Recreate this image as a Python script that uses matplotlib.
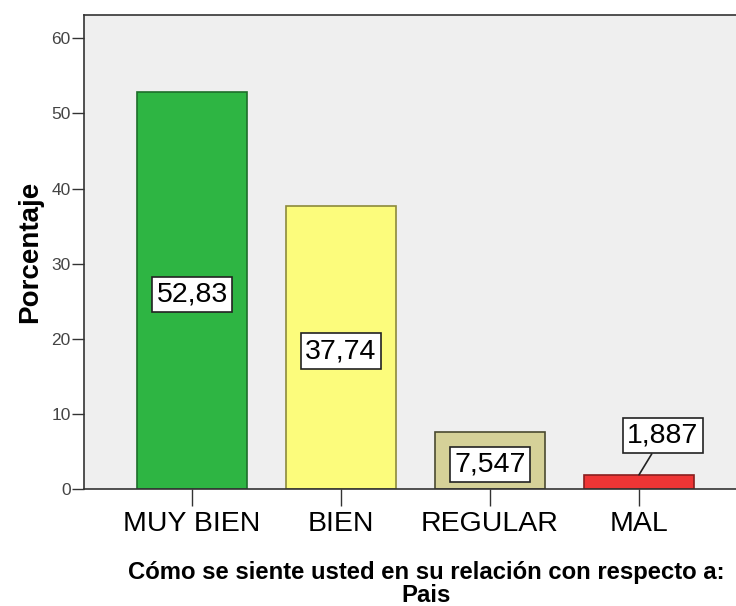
import matplotlib as mpl
mpl.use('Agg')
import matplotlib.pyplot as plt

plt.rcParams['font.family'] = ['Liberation Sans', 'DejaVu Sans']

categorias = ["MUY BIEN", "BIEN", "REGULAR", "MAL"]
porcentajes = [52.83, 37.74, 7.547, 1.887]
etiquetas = ["52,83", "37,74", "7,547", "1,887"]
colores = ["#2eb543", "#fcfc7c", "#d5d198", "#ee3535"]
bordes = ["#1d6e2a", "#8c8a3c", "#4a4a30", "#8a1f1f"]

fig = plt.figure(figsize=(7.36, 6.06), dpi=100)
ax = fig.add_axes([84 / 736, 117 / 606, 663 / 736, 474 / 606])
ax.set_facecolor("#efefef")

x = range(len(categorias))
ax.bar(x, porcentajes, width=0.74, color=colores, edgecolor=bordes, linewidth=1.2)

box = dict(boxstyle="square,pad=0.16", facecolor="white", edgecolor="#222222", linewidth=1.2)
for i, (v, t) in enumerate(zip(porcentajes, etiquetas)):
    if v > 5:
        ax.text(i, v / 2 - 0.5, t, ha="center", va="center", fontsize=20.5, bbox=box)
    else:
        # small bar: label sits above with a leader line
        ax.annotate(t, xy=(i, v), xytext=(i + 0.16, v + 5.2), ha="center", va="center",
                    fontsize=20.5, bbox=box,
                    arrowprops=dict(arrowstyle="-", color="#222222", linewidth=1.2,
                                    shrinkA=0, shrinkB=0))

ax.set_xlim(-0.725, 3.725)
ax.set_ylim(0, 63.1)
ax.set_yticks([0, 10, 20, 30, 40, 50, 60])
ax.set_xticks(list(x))
ax.set_xticklabels(categorias, fontsize=20.5)
ax.tick_params(axis="x", length=12.5, width=1, color="#333333", pad=3)
ax.tick_params(axis="y", length=9, width=1, color="#333333", labelsize=12.5, labelcolor="#444444", pad=0.5)
for s in ax.spines.values():
    s.set_color("#333333")
    s.set_linewidth(1.2)

ax.set_ylabel("Porcentaje", fontsize=20, fontweight="bold")
ax.yaxis.set_label_coords((30 - 84) / 663, 0.5)
ax.yaxis.label.set_verticalalignment("center")

ax.set_xlabel("Cómo se siente usted en su relación con respecto a:\nPais",
              fontsize=17.2, fontweight="bold", linespacing=1.0)
ax.xaxis.set_label_coords((426 - 84) / 663, -(561 - 489) / 474)
ax.xaxis.label.set_verticalalignment("top")

fig.savefig("out.png", dpi=100)
